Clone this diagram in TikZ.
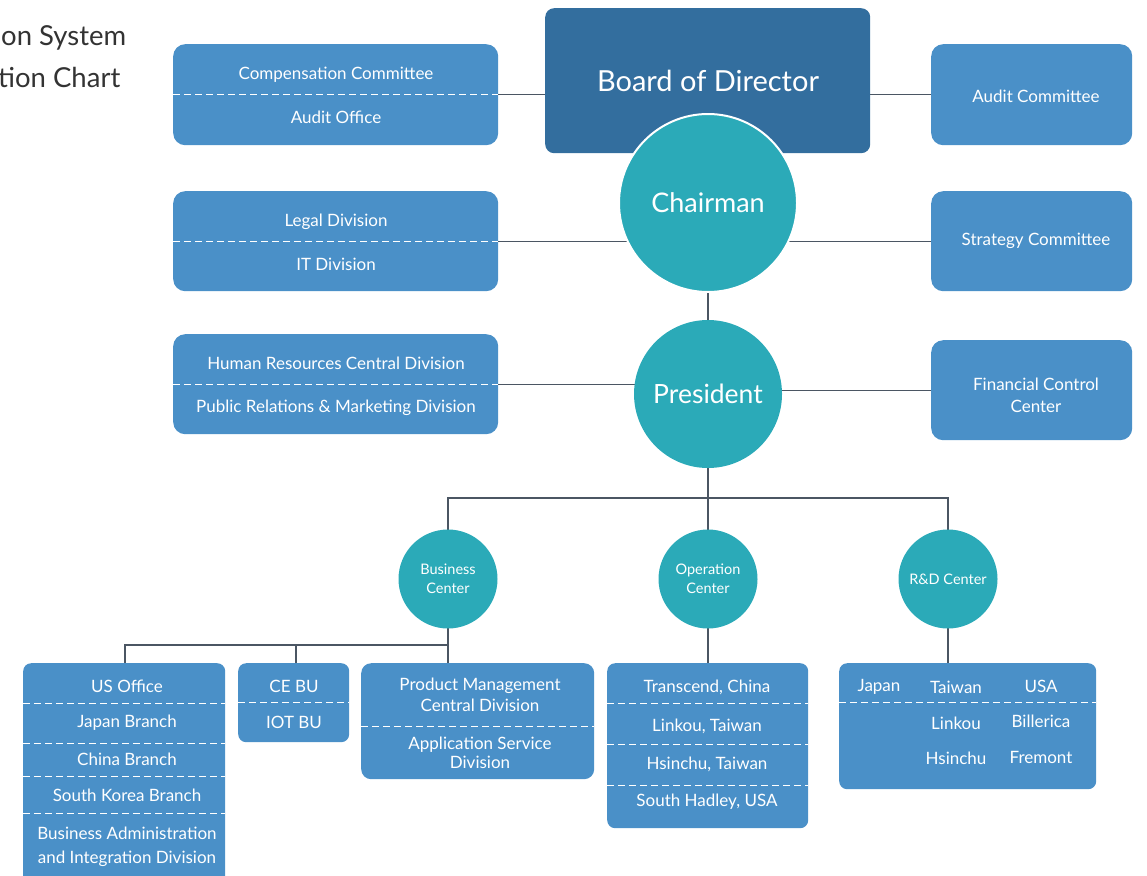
\documentclass[tikz,border=0pt]{standalone}
\usepackage{fontspec}
\setmainfont{Lato}
\usetikzlibrary{backgrounds}
\definecolor{boxblue}{HTML}{4A90C8}
\definecolor{boarddark}{HTML}{336E9E}
\definecolor{circteal}{HTML}{2BAAB8}
\definecolor{linegray}{HTML}{4B5663}
\definecolor{titlegray}{HTML}{333333}
\tikzset{
  x=1pt, y=-1pt,
  bluebox/.style={fill=boxblue, rounded corners=12pt, inner sep=0pt, anchor=north west},
  boardbox/.style={fill=boarddark, rounded corners=9pt, inner sep=0pt, anchor=north west},
  txt/.style={text=white, font=\fontsize{17}{21}\selectfont, align=center, inner sep=0pt},
  bigtxt/.style={text=white, font=\fontsize{29}{32}\selectfont, inner sep=0pt},
  bigcirc/.style={circle, fill=circteal, draw=white, line width=2pt, inner sep=0pt, text=white},
  smallcirc/.style={circle, fill=circteal, inner sep=0pt, minimum size=99pt, text=white, align=center, font=\fontsize{14.5}{19}\selectfont},
  divider/.style={draw=white, line width=1pt, dash pattern=on 7pt off 4pt},
  conn/.style={draw=linegray, line width=1.2pt},
  titletxt/.style={text=titlegray, font=\fontsize{27.5}{30}\selectfont, inner sep=0pt, anchor=west}
}
\begin{document}
\begin{tikzpicture}
\useasboundingbox (0,0) rectangle (1147,875);

% title (cropped)
\node[titletxt] (t1) at (1,38) {on System};
\node[titletxt] (t2) at (-2,77) {tion Chart};

% top row
\node[bluebox, minimum width=325pt, minimum height=101pt] (comp) at (173,44) {};
\node[boardbox, minimum width=325pt, minimum height=145pt] (board) at (545,8) {};
\node[bluebox, minimum width=201pt, minimum height=101pt] (audc) at (931,44) {};
\node[bigtxt] (boardt) at (708,81) {Board of Director};
\draw[divider] (comp.west) -- (comp.east);
\node[txt] (compt) at (336,75) {Compensation Committee};
\node[txt] (audo) at (336,117) {Audit Office};
\node[txt] (audct) at (1036,96) {Audit Committee};

% chairman row
\node[bigcirc, minimum size=178pt, font=\fontsize{27}{30}\selectfont] (chair) at (708,203) {Chairman};
\node[bluebox, minimum width=325pt, minimum height=100pt] (legal) at (173,191) {};
\node[bluebox, minimum width=201pt, minimum height=100pt] (strat) at (931,191) {};
\draw[divider] (legal.west) -- (legal.east);
\node[txt] (legalt) at (336,222) {Legal Division};
\node[txt] (itt) at (336,264) {IT Division};
\node[txt] (stratt) at (1036,241) {Strategy Committee};

% president row
\node[bigcirc, draw=none, minimum size=148pt, font=\fontsize{26.5}{30}\selectfont] (pres) at (708,394) {President};
\node[bluebox, minimum width=325pt, minimum height=100pt] (hr) at (173,334) {};
\node[bluebox, minimum width=201pt, minimum height=100pt] (fin) at (931,340) {};
\draw[divider] (hr.west) -- (hr.east);
\node[txt] (hrt) at (336,363) {Human Resources Central Division};
\node[txt] (prt) at (336,408) {Public Relations \& Marketing Division};
\node[txt, font=\fontsize{17}{22}\selectfont] (fint) at (1036,395) {Financial Control\\Center};

% centers
\node[smallcirc] (bus) at (448,579) {Business\\Center};
\node[smallcirc] (ops) at (708,579) {Operation\\Center};
\node[smallcirc] (rnd) at (948,579) {R\&D Center};

% business sub boxes
\node[bluebox, rounded corners=8pt, minimum width=202pt, minimum height=230pt] (us) at (23,663) {};
\draw[divider] (us.west |- 0,703) -- (us.east |- 0,703);
\draw[divider] (us.west |- 0,743) -- (us.east |- 0,743);
\draw[divider] (us.west |- 0,776) -- (us.east |- 0,776);
\draw[divider] (us.west |- 0,813) -- (us.east |- 0,813);
\node[txt] (ust) at (127,686) {US Office};
\node[txt] (jpb) at (127,723) {Japan Branch};
\node[txt] (cnb) at (127,759) {China Branch};
\node[txt] (skb) at (127,795) {South Korea Branch};
\node[txt, font=\fontsize{17}{24}\selectfont] (bai) at (127,847) {Business Administration\\and Integration Division};

\node[bluebox, rounded corners=8pt, minimum width=111pt, minimum height=79pt] (ce) at (238,663) {};
\draw[divider] (ce.west |- 0,702) -- (ce.east |- 0,702);
\node[txt] (cet) at (294,686) {CE BU};
\node[txt] (iot) at (294,722) {IOT BU};

\node[bluebox, rounded corners=10pt, minimum width=233pt, minimum height=116pt] (pm) at (361,663) {};
\draw[divider] (pm.west |- 0,726) -- (pm.east |- 0,726);
\node[txt, font=\fontsize{17}{21}\selectfont] (pmt) at (480,695) {Product Management\\Central Division};
\node[txt, font=\fontsize{17}{19}\selectfont] (ast) at (480,753) {Application Service\\Division};

% operation sub box
\node[bluebox, rounded corners=8pt, minimum width=201pt, minimum height=165pt] (tr) at (607,663) {};
\draw[divider] (tr.west |- 0,703) -- (tr.east |- 0,703);
\draw[divider] (tr.west |- 0,744) -- (tr.east |- 0,744);
\draw[divider] (tr.west |- 0,785) -- (tr.east |- 0,785);
\node[txt] (trc) at (707,687) {Transcend, China};
\node[txt] (lkt) at (707,726) {Linkou, Taiwan};
\node[txt] (hct) at (707,764) {Hsinchu, Taiwan};
\node[txt] (shu) at (707,802) {South Hadley, USA};

% R&D sub box
\node[bluebox, rounded corners=8pt, minimum width=257pt, minimum height=126pt] (rd) at (839,663) {};
\draw[divider] (rd.west |- 0,702) -- (rd.east |- 0,702);
\node[txt] (rjp) at (879,687) {Japan};
\node[txt] (rtw) at (956,687) {Taiwan};
\node[txt] (rus) at (1041,686) {USA};
\node[txt] (rlk) at (956,723) {Linkou};
\node[txt] (rbl) at (1041,721) {Billerica};
\node[txt] (rhc) at (956,758) {Hsinchu};
\node[txt] (rfm) at (1041,757) {Fremont};

% connectors
\begin{scope}[on background layer]
\draw[conn] (comp.east) -- (comp.east -| board.west);
\draw[conn] (audc.west -| board.east) -- (audc.west);
\draw[conn] (legal.east) -- (legal.east -| chair.center);
\draw[conn] (strat.west -| chair.center) -- (strat.west);
\draw[conn] (chair.center) -- (pres.center);
\draw[conn] (hr.east) -- (hr.east -| pres.center);
\draw[conn] (fin.west -| pres.center) -- (fin.west);
\coordinate (hub) at (708,498);
\draw[conn] (pres.center) -- (hub);
\draw[conn] (bus.center) |- (hub) -| (rnd.center);
\draw[conn] (hub) -- (ops.center);
\coordinate (bhub) at (448,645);
\draw[conn] (bus.center) -- (bhub);
\draw[conn] (us.north -| 125,0) |- (bhub);
\draw[conn] (ce.north -| 296,0) -- (296,645);
\draw[conn] (bhub) -- (pm.north -| bhub);
\draw[conn] (ops.center) -- (tr.north -| ops.center);
\draw[conn] (rnd.center) -- (rd.north -| rnd.center);
\end{scope}
\end{tikzpicture}
\end{document}
